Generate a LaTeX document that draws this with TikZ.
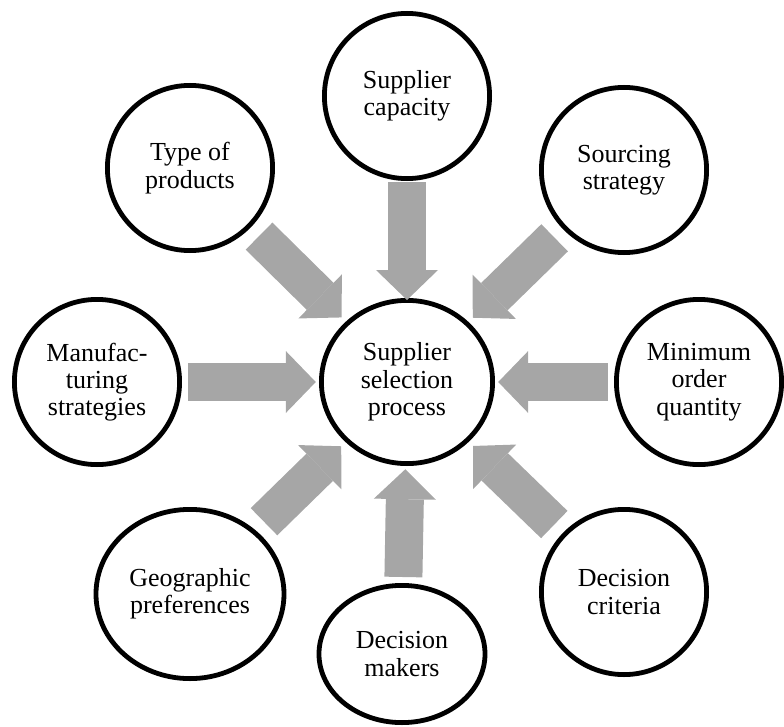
\documentclass[tikz,border=0pt]{standalone}
\usepackage{fontspec}
\setmainfont{Liberation Serif}
\usetikzlibrary{shapes.geometric, arrows.meta}
\definecolor{arrowgray}{RGB}{166, 166, 166}

\begin{document}
\begin{tikzpicture}[
    factor/.style={draw, circle, line width=0.12cm, minimum size=4.13cm,
        inner sep=0pt, align=center, font=\fontsize{18.5}{19.4}\selectfont},
    factorwide/.style={factor, ellipse},
    push/.style={draw=arrowgray, line width=0.95cm,
        -{Triangle[length=0.75cm, width=1.55cm, line width=0pt]},
        shorten <=0.15cm, shorten >=0.08cm},
    pushdiag/.style={push, shorten <=0.3cm, shorten >=0.15cm}
]
    \useasboundingbox (-10.175,-8.6) rectangle (9.425,9.55);

    \node[factorwide, minimum width=4.28cm, minimum height=4.08cm] (process) at (0,0)
        {Supplier\\selection\\process};
    \node[factor] (capacity) at (0,7.15) {Supplier\\capacity};
    \node[factor] (products) at (-5.425,5.35) {Type of\\products};
    \node[factor] (sourcing) at (5.425,5.3) {Sourcing\\strategy};
    \node[factor] (manufacturing) at (-7.75,0) {Manufac-\\turing\\strategies};
    \node[factor] (moq) at (7.3,0) {Minimum\\order\\quantity};
    \node[factorwide, minimum width=4.7cm, minimum height=4.23cm] (geographic)
        at (-5.425,-5.3) {Geographic\\preferences};
    \node[factorwide, minimum width=4.15cm, minimum height=3.43cm] (makers)
        at (-0.125,-6.8) {Decision\\makers};
    \node[factor] (criteria) at (5.425,-5.25) {Decision\\criteria};

    \draw[push, shorten <=0.03cm, shorten >=-0.05cm] (capacity) -- (process);
    \draw[push] (manufacturing) -- (process);
    \draw[push] (moq) -- (process);
    \draw[push] (makers) -- (process);
    \draw[pushdiag] (products) -- (process);
    \draw[pushdiag] (sourcing) -- (process);
    \draw[pushdiag] (geographic) -- (process);
    \draw[pushdiag] (criteria) -- (process);
\end{tikzpicture}
\end{document}
